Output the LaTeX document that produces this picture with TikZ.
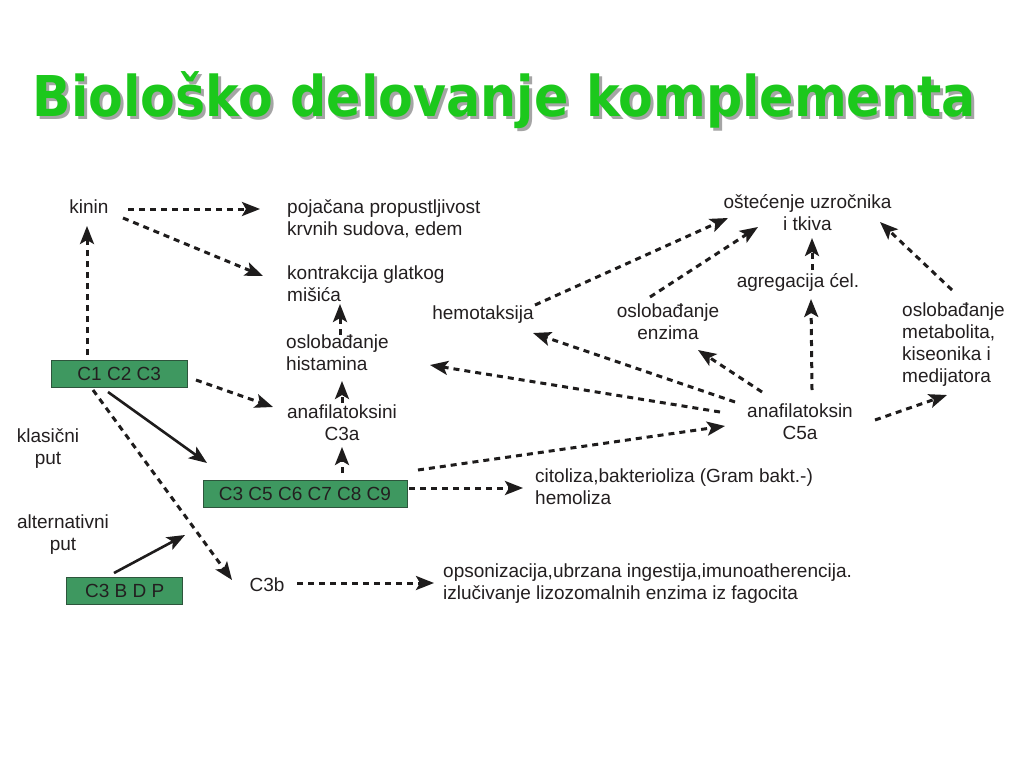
\documentclass[tikz,border=0pt]{standalone}
\usepackage{fontspec}
\setmainfont{Liberation Sans}
\newfontfamily\titlefont{DejaVu Sans}
\usetikzlibrary{arrows.meta}
\definecolor{txtcol}{RGB}{35,31,32}
\definecolor{boxgreen}{RGB}{62,152,96}
\definecolor{boxborder}{RGB}{45,85,60}
\definecolor{titlegreen}{RGB}{28,200,28}
\definecolor{shadowgray}{RGB}{165,165,165}
\definecolor{arrcol}{RGB}{30,28,28}
\begin{document}
\begin{tikzpicture}[x=1pt,y=-1pt,
  txt/.style={inner sep=0pt, font=\fontsize{19}{22}\selectfont, text=txtcol},
  cbox/.style={draw=boxborder, fill=boxgreen, line width=1pt, inner sep=0pt,
    minimum height=27pt, font=\fontsize{19}{22}\selectfont, text=txtcol},
  tip/.style={-{Stealth[length=18pt,width=14pt,inset=4pt]}},
  dar/.style={draw=arrcol, line width=3pt, dash pattern=on 6pt off 5pt, tip},
  sar/.style={draw=arrcol, line width=2.6pt, tip},
  ttl/.style={anchor=base west, inner sep=0pt}]
\useasboundingbox (0,0) rectangle (1024,768);
\fill[white] (0,0) rectangle (1024,768);

% title
\node[ttl, text=shadowgray] (titleshadow) at (35.5,119) {\resizebox{943pt}{\height}{\titlefont\bfseries\fontsize{56.2}{60}\selectfont Biološko delovanje komplementa}};
\node[ttl, text=titlegreen] (title) at (32.5,116) {\resizebox{943pt}{\height}{\titlefont\bfseries\fontsize{56.2}{60}\selectfont Biološko delovanje komplementa}};

% boxes
\node[cbox, minimum width=136pt] (b1) at (119.2,374) {C1 C2 C3};
\node[cbox, minimum width=204pt] (b2) at (305,493.7) {C3 C5 C6 C7 C8 C9};
\node[cbox, minimum width=116pt] (b3) at (124.7,591.3) {C3 B D P};

% texts
\node[txt] (kinin) at (89,207) {kinin};
\node[txt, anchor=west, align=left] (perm) at (287,218.9) {pojačana propustljivost\\krvnih sudova, edem};
\node[txt, anchor=west, align=left] (kontr) at (287,283.6) {kontrakcija glatkog\\mišića};
\node[txt, anchor=west, align=left] (hist) at (286,353.2) {oslobađanje\\histamina};
\node[txt, align=center] (c3a) at (342,422.5) {anafilatoksini\\C3a};
\node[txt, align=center] (klas) at (48,448.2) {klasični\\put};
\node[txt, align=center] (alt) at (63,534.2) {alternativni\\put};
\node[txt] (c3b) at (267,585) {C3b};
\node[txt, anchor=west, align=left] (ops) at (443,584) {opsonizacija,ubrzana ingestija,imunoatherencija.\\izlučivanje lizozomalnih enzima iz fagocita};
\node[txt, anchor=west, align=left] (cito) at (535,487.2) {citoliza,bakterioliza (Gram bakt.-)\\hemoliza};
\node[txt] (hemo) at (483,315) {hemotaksija};
\node[txt, align=center] (enz) at (668,322) {oslobađanje\\enzima};
\node[txt] (agr) at (798,282) {agregacija ćel.};
\node[txt, align=center] (ost) at (807.5,212.2) {oštećenje uzročnika\\i tkiva};
\node[txt, anchor=west, align=left] (meta) at (902,345) {oslobađanje\\metabolita,\\kiseonika i\\medijatora};
\node[txt, align=center] (c5a) at (800,421.8) {anafilatoksin\\C5a};
\coordinate (altjoin) at (185,535);

% connectors
\draw[dar] ([shift={({128-89},{209-207})}]kinin.center) -- ([shift={({260-287},{209-218.9})}]perm.west);
\draw[dar] ([shift={({123-89},{218-207})}]kinin.center) -- ([shift={({263-287},{276-283.6})}]kontr.west);
\draw[dar] ([shift={({87-119.2},{355-374})}]b1.center) -- ([shift={({87-89},{226-207})}]kinin.center);
\draw[dar] ([shift={({196-119.2},{380-374})}]b1.center) -- ([shift={({273-342},{407-422.5})}]c3a.center);
\draw[sar] ([shift={({108-119.2},{392-374})}]b1.center) -- ([shift={({207-305},{463-493.7})}]b2.center);
\draw[dar] ([shift={({93-119.2},{390-374})}]b1.center) -- ([shift={({232-267},{580-585})}]c3b.center);
\draw[sar] ([shift={({114-124.7},{573-591.3})}]b3.center) -- (altjoin);
\draw[dar] ([shift={({342-305},{473-493.7})}]b2.center) -- ([shift={(0,{447-422.5})}]c3a.center);
\draw[dar] ([shift={(0,{403-422.5})}]c3a.center) -- ([shift={({342-286},{381-353.2})}]hist.west);
\draw[dar] ([shift={({340-286},{335-353.2})}]hist.west) -- ([shift={({340-287},{304-283.6})}]kontr.west);
\draw[dar] ([shift={({418-305},{470-493.7})}]b2.center) -- ([shift={({725-800},{426-421.8})}]c5a.center);
\draw[dar] ([shift={({409-305},{488-493.7})}]b2.center) -- ([shift={({523-535},{488-487.2})}]cito.west);
\draw[dar] ([shift={({297-267},{583-585})}]c3b.center) -- ([shift={({434-443},{583-584})}]ops.west);
\draw[dar] ([shift={({720-800},{412-421.8})}]c5a.center) -- ([shift={({430-286},{365-353.2})}]hist.west);
\draw[dar] ([shift={({735-800},{402-421.8})}]c5a.center) -- ([shift={({533-483},{333-315})}]hemo.center);
\draw[dar] ([shift={({762-800},{392-421.8})}]c5a.center) -- ([shift={({698-668},{350-322})}]enz.center);
\draw[dar] ([shift={({812-800},{390-421.8})}]c5a.center) -- ([shift={({811-798},{299-282})}]agr.center);
\draw[dar] ([shift={({812-798},{270-282})}]agr.center) -- ([shift={({812-807.5},{238-212.2})}]ost.center);
\draw[dar] ([shift={({535-483},{305-315})}]hemo.center) -- ([shift={({728-807.5},{218-212.2})}]ost.center);
\draw[dar] ([shift={({650-668},{297-322})}]enz.center) -- ([shift={({758-807.5},{227-212.2})}]ost.center);
\draw[dar] ([shift={({952-902},{290-345})}]meta.west) -- ([shift={({880-807.5},{222-212.2})}]ost.center);
\draw[dar] ([shift={({875-800},{420-421.8})}]c5a.center) -- ([shift={({947-902},{395-345})}]meta.west);
\end{tikzpicture}
\end{document}
